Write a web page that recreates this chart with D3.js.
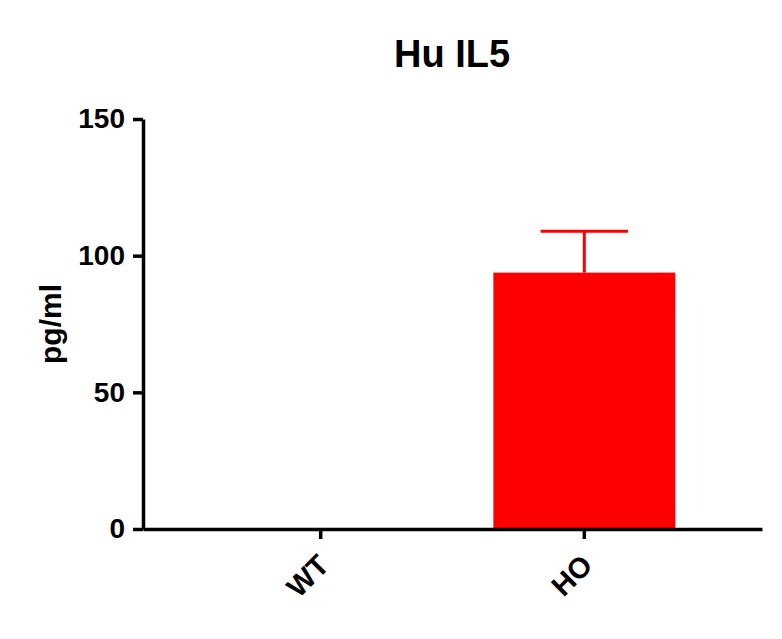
<!DOCTYPE html>
<html>
<head>
<meta charset="utf-8">
<script src="https://cdn.jsdelivr.net/npm/d3@7"></script>
<style>
  body { margin: 0; background: #fff; }
  svg text { font-family: Arial, "Liberation Sans", Helvetica, sans-serif; font-weight: bold; }
</style>
</head>
<body>
<div id="chart"></div>
<script>
// values
const groups = ["WT", "HO"];
const means = [0, 93.8];
const sems = [0, 15.1];
const yTicks = [0, 50, 100, 150];
const title = "Hu IL5";
const yLabel = "pg/ml";

const width = 782, height = 639;
const margin = { top: 119, right: 20, bottom: 110, left: 143 };

const svg = d3.select("#chart").append("svg")
    .attr("width", width)
    .attr("height", height);

const x = d3.scaleBand()
    .domain(groups)
    .range([margin.left, 762])
    .paddingInner(0.31)
    .paddingOuter(0.329);

const y = d3.scaleLinear()
    .domain([0, 150])
    .range([height - margin.bottom, margin.top]);

const red = "#ff0000";

// bars
svg.selectAll(".bar")
    .data(groups)
    .enter()
    .append("rect")
    .attr("class", "bar")
    .attr("x", d => x(d))
    .attr("width", x.bandwidth())
    .attr("y", (d, i) => y(means[i]))
    .attr("height", (d, i) => y(0) - y(means[i]))
    .attr("fill", red);

// error bars (upper only)
const capW = x.bandwidth() * 0.48;
const err = svg.selectAll(".err")
    .data(groups.filter((d, i) => sems[i] > 0))
    .enter()
    .append("g")
    .attr("class", "err")
    .attr("stroke", red)
    .attr("stroke-width", 3);
err.append("line")
    .attr("x1", d => x(d) + x.bandwidth() / 2)
    .attr("x2", d => x(d) + x.bandwidth() / 2)
    .attr("y1", d => y(means[groups.indexOf(d)]))
    .attr("y2", d => y(means[groups.indexOf(d)] + sems[groups.indexOf(d)]));
err.append("line")
    .attr("x1", d => x(d) + x.bandwidth() / 2 - capW / 2)
    .attr("x2", d => x(d) + x.bandwidth() / 2 + capW / 2)
    .attr("y1", d => y(means[groups.indexOf(d)] + sems[groups.indexOf(d)]))
    .attr("y2", d => y(means[groups.indexOf(d)] + sems[groups.indexOf(d)]));

// y axis
const yAxis = svg.append("g")
    .attr("transform", `translate(${margin.left},0)`)
    .call(d3.axisLeft(y).tickValues(yTicks).tickSize(10).tickSizeOuter(0).tickPadding(8));

// x axis
const xAxis = svg.append("g")
    .attr("transform", `translate(0,${y(0)})`)
    .call(d3.axisBottom(x).tickSize(10).tickSizeOuter(0));

[yAxis, xAxis].forEach(a => {
    a.select(".domain").attr("stroke", "#000").attr("stroke-width", 3.5);
    a.selectAll(".tick line").attr("stroke", "#000").attr("stroke-width", 3.5);
});
yAxis.selectAll(".tick text")
    .attr("fill", "#000")
    .style("font-size", "28px");

xAxis.selectAll(".tick text")
    .attr("fill", "#000")
    .style("font-size", "29px")
    .attr("text-anchor", "end")
    .attr("dy", null)
    .attr("y", 0)
    .attr("transform", "translate(10,38) rotate(-45)");

// title
svg.append("text")
    .attr("x", 452)
    .attr("y", 67)
    .attr("text-anchor", "middle")
    .style("font-size", "38px")
    .text(title);

// y label
svg.append("text")
    .attr("transform", `translate(61,${(y(0) + y(150)) / 2}) rotate(-90)`)
    .attr("text-anchor", "middle")
    .style("font-size", "30px")
    .text(yLabel);
</script>
</body>
</html>
